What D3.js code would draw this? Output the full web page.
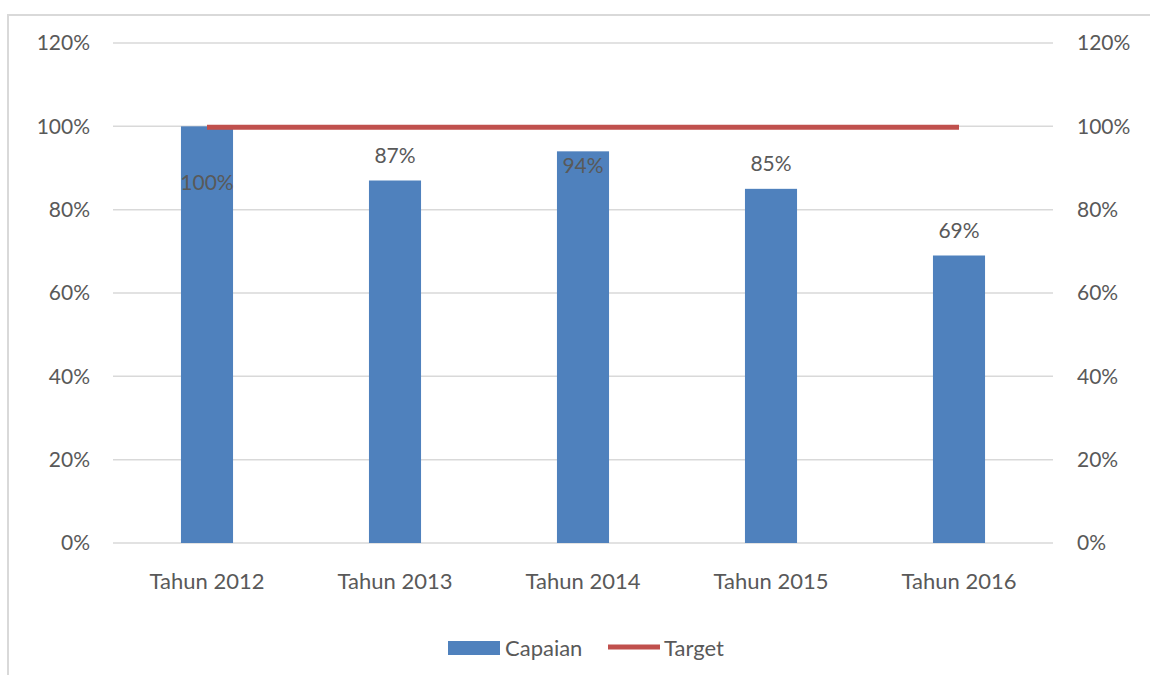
<!DOCTYPE html>
<html><head><meta charset="utf-8">
<script src="https://cdn.jsdelivr.net/npm/d3@7"></script>
<style>body{margin:0;background:#fff}svg{display:block}text{font-family:Lato,"Open Sans",sans-serif;fill:#595959}</style>
</head><body><svg id="c" width="1150" height="675"></svg>
<script>
const categories = ["Tahun 2012","Tahun 2013","Tahun 2014","Tahun 2015","Tahun 2016"];
const capaian = [100, 87, 94, 85, 69];
const target = [100, 100, 100, 100, 100];
const tickValues = [0, 20, 40, 60, 80, 100, 120];
const seriesNames = ["Capaian", "Target"];

const W = 1150, H = 675;
const m = {left:113, right:97, top:43, bottom:132};
const svg = d3.select("#c");
const colBar = "#4F81BD", colLine = "#C0504D", grid = "#D9D9D9";
const fs = 21, fsX = 22;

svg.append("rect").attr("x",8).attr("y",15).attr("width",1160).attr("height",700)
  .attr("fill","none").attr("stroke",grid).attr("stroke-width",2);

const x = d3.scaleBand().domain(categories).range([m.left, W-m.right]).paddingInner(0.723).paddingOuter(0.3615);
const y = d3.scaleLinear().domain([0,120]).range([H-m.bottom, m.top]);

// gridlines
svg.append("g").selectAll("line").data(tickValues).join("line")
  .attr("x1",m.left).attr("x2",W-m.right).attr("y1",d=>y(d)).attr("y2",d=>y(d))
  .attr("stroke",grid).attr("stroke-width",1.5);

// axes
const fmt = d=>d+"%";
const yl = svg.append("g").attr("transform",`translate(${m.left-23},0)`)
  .call(d3.axisLeft(y).tickValues(tickValues).tickFormat(fmt).tickSize(0).tickPadding(0));
const yr = svg.append("g").attr("transform",`translate(${W-m.right+24},0)`)
  .call(d3.axisRight(y).tickValues(tickValues).tickFormat(fmt).tickSize(0).tickPadding(0));
const xa = svg.append("g").attr("transform",`translate(0,${H-m.bottom+38})`)
  .call(d3.axisBottom(x).tickSize(0).tickPadding(0));
[yl,yr,xa].forEach(g=>{g.select(".domain").remove();
  g.selectAll("text").attr("font-size",fs).style("font-family","Lato").attr("fill","#595959");});
xa.selectAll("text").attr("font-size",fsX).attr("dy","0.35em");

// bars
svg.append("g").selectAll("rect").data(capaian).join("rect")
  .attr("x",(d,i)=>x(categories[i])).attr("width",x.bandwidth())
  .attr("y",d=>y(d)).attr("height",d=>y(0)-y(d)).attr("fill",colBar);

// target line
const cx = (d,i)=>x(categories[i])+x.bandwidth()/2;
svg.append("path").datum(target)
  .attr("d",d3.line().x(cx).y(d=>y(d)+1))
  .attr("fill","none").attr("stroke",colLine).attr("stroke-width",5);

// data labels (Excel moved labels colliding with target line)
const labelShift = [56, -25, 14, -25, -25];
svg.append("g").selectAll("text").data(capaian).join("text")
  .attr("x",cx).attr("y",(d,i)=>y(d)+labelShift[i]).attr("dy","0.35em")
  .attr("text-anchor","middle").attr("font-size",fs).text(d=>d+"%");

// legend
const lg = svg.append("g");
lg.append("rect").attr("x",448).attr("y",641).attr("width",52).attr("height",14).attr("fill",colBar);
lg.append("text").attr("x",505).attr("y",648).attr("dy","0.35em").attr("font-size",fsX).text(seriesNames[0]);
lg.append("line").attr("x1",608).attr("x2",660).attr("y1",647).attr("y2",647).attr("stroke",colLine).attr("stroke-width",5);
lg.append("text").attr("x",664).attr("y",648).attr("dy","0.35em").attr("font-size",fsX).text(seriesNames[1]);
</script></body></html>
